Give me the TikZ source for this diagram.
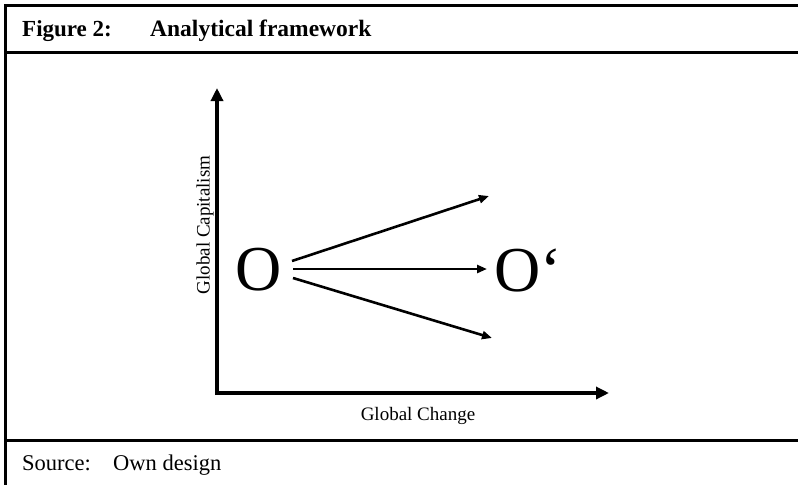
\documentclass[tikz,border=0pt]{standalone}
\usepackage{fontspec}
\setmainfont{Liberation Serif}
\usepackage{tikz}
\usetikzlibrary{arrows.meta}

\begin{document}
\begin{tikzpicture}[x=1pt, y=-1pt,
    frameline/.style={line width=3pt},
    axisline/.style={line width=4pt, -{Triangle[length=13pt, width=12pt]}},
    pathline/.style={line width=2.6pt, -{Triangle[length=10pt, width=8pt]}},
    txt/.style={inner sep=0pt, anchor=base west}]
    \useasboundingbox (0,0) rectangle (798,485);
    % frame of the figure
    \draw[frameline] (798,5) -- (5,5) -- (5,485);
    \draw[frameline] (5,52) -- (798,52);
    \draw[frameline] (5,440) -- (798,440);
    \node[txt, font=\fontsize{23}{27}\selectfont\bfseries] (T1) at (22,36) {Figure 2:};
    \node[txt, font=\fontsize{23.5}{27}\selectfont\bfseries] (T2) at (150,36) {Analytical framework};
    \node[txt, font=\fontsize{22.5}{27}\selectfont] (S1) at (22,470) {Source:};
    \node[txt, font=\fontsize{22.5}{27}\selectfont] (S2) at (113,470) {Own design};
    % axes
    \coordinate (org) at (217,393);
    \coordinate (ytip) at (217,88);
    \coordinate (xtip) at (609,393);
    \draw[axisline] ([yshift=-2pt]org) -- (ytip);
    \draw[axisline] ([xshift=-2pt]org) -- (xtip);
    \node[font=\fontsize{19}{22}\selectfont, rotate=90, inner sep=0pt] (ylab) at (205,225) {Global Capitalism};
    \node[font=\fontsize{19}{22}\selectfont, inner sep=0pt] (xlab) at (418,416) {Global Change};
    % O and O'
    \node[font=\fontsize{64}{70}\selectfont, inner sep=0pt] (O) at (259,270) {O};
    \node[font=\fontsize{64}{70}\selectfont, inner sep=0pt, anchor=west] (O2) at (494,270) {O\textquoteleft};
    \coordinate (fromup) at (292,261);
    \coordinate (frommid) at (293,269);
    \coordinate (fromdown) at (293,278);
    \coordinate (up) at (489,196);
    \coordinate (mid) at (487,269);
    \coordinate (down) at (492,338);
    \draw[pathline] (fromup) -- (up);
    \draw[pathline] (frommid) -- (mid);
    \draw[pathline] (fromdown) -- (down);
\end{tikzpicture}
\end{document}
